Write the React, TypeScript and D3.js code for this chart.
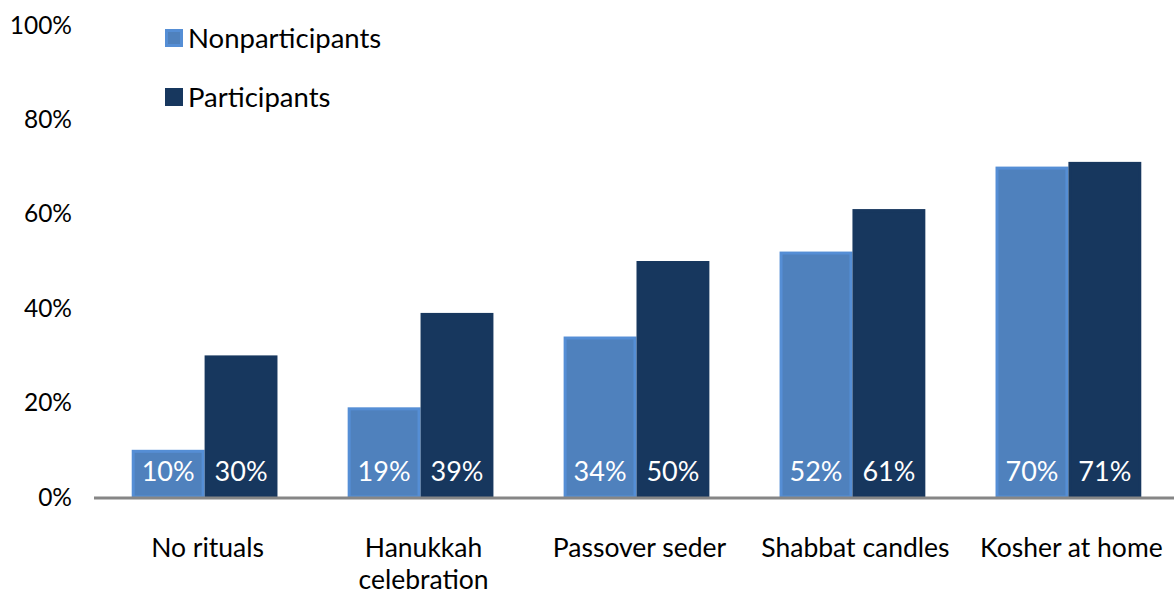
import React from 'react';
import * as d3 from 'd3';

const categories = ['No rituals', 'Hanukkah celebration', 'Passover seder', 'Shabbat candles', 'Kosher at home'];
const categoryLines = [['No rituals'], ['Hanukkah', 'celebration'], ['Passover seder'], ['Shabbat candles'], ['Kosher at home']];
const nonparticipants = [10, 19, 34, 52, 70];
const participants = [30, 39, 50, 61, 71];
const seriesNames = ['Nonparticipants', 'Participants'];
const yTicks = [0, 20, 40, 60, 80, 100];

const W = 1174;
const H = 597;
const margin = { left: 95, right: -4, top: 25, bottom: 100 };
const font = 'Lato, "Open Sans", sans-serif';

export default function App() {
  const x = d3.scaleBand<string>()
    .domain(categories)
    .range([margin.left, W - margin.right])
    .paddingInner(0.325)
    .paddingOuter(0.17);
  const inner = d3.scaleBand<string>()
    .domain(seriesNames)
    .range([0, x.bandwidth()]);
  const y = d3.scaleLinear().domain([0, 100]).range([H - margin.bottom, margin.top]);

  const series = [
    { name: 'Nonparticipants', values: nonparticipants, fill: '#4f81bd', stroke: '#558ed5' },
    { name: 'Participants', values: participants, fill: '#17375e', stroke: '#17375e' },
  ];

  return (
    <svg width={W} height={H} style={{ position: 'absolute', left: 0, top: 0, background: '#fff' }}>
      {yTicks.map(t => (
        <text key={t} x={72} y={y(t)} dy="0.35em" textAnchor="end" fontFamily={font} fontSize={24.5} fill="#000">
          {t}%
        </text>
      ))}
      {series.map(s => (
        <g key={s.name}>
          {categories.map((c, i) => {
            const bx = (x(c) ?? 0) + (inner(s.name) ?? 0);
            const by = y(s.values[i]);
            const bh = y(0) - by;
            const bw = inner.bandwidth();
            return (
              <g key={c}>
                <rect x={bx + 1.5} y={by + 1.5} width={bw - 3} height={bh - 1.5} fill={s.fill} stroke={s.stroke} strokeWidth={3} />
                <text x={bx + bw / 2} y={y(0) - 16} textAnchor="middle" fontFamily={font} fontSize={27} fill="#fff">
                  {s.values[i]}%
                </text>
              </g>
            );
          })}
        </g>
      ))}
      <line x1={margin.left - 1} x2={W} y1={y(0) + 1} y2={y(0) + 1} stroke="#868686" strokeWidth={3} />
      {categories.map((c, i) => (
        <text key={c} x={(x(c) ?? 0) + x.bandwidth() / 2 + 3} y={557} textAnchor="middle" fontFamily={font} fontSize={26.5} fill="#000">
          {categoryLines[i].map((l, j) => (
            <tspan key={j} x={(x(c) ?? 0) + x.bandwidth() / 2 + 3} dy={j === 0 ? 0 : 32}>{l}</tspan>
          ))}
        </text>
      ))}
      {series.map((s, i) => (
        <g key={s.name} transform={`translate(165, ${29 + i * 59})`}>
          <rect x={1.5} y={1.5} width={15} height={15} fill={s.fill} stroke={s.stroke} strokeWidth={3} />
          <text x={23} y={9} dy="0.35em" fontFamily={font} fontSize={27.5} fill="#000">{s.name}</text>
        </g>
      ))}
    </svg>
  );
}
